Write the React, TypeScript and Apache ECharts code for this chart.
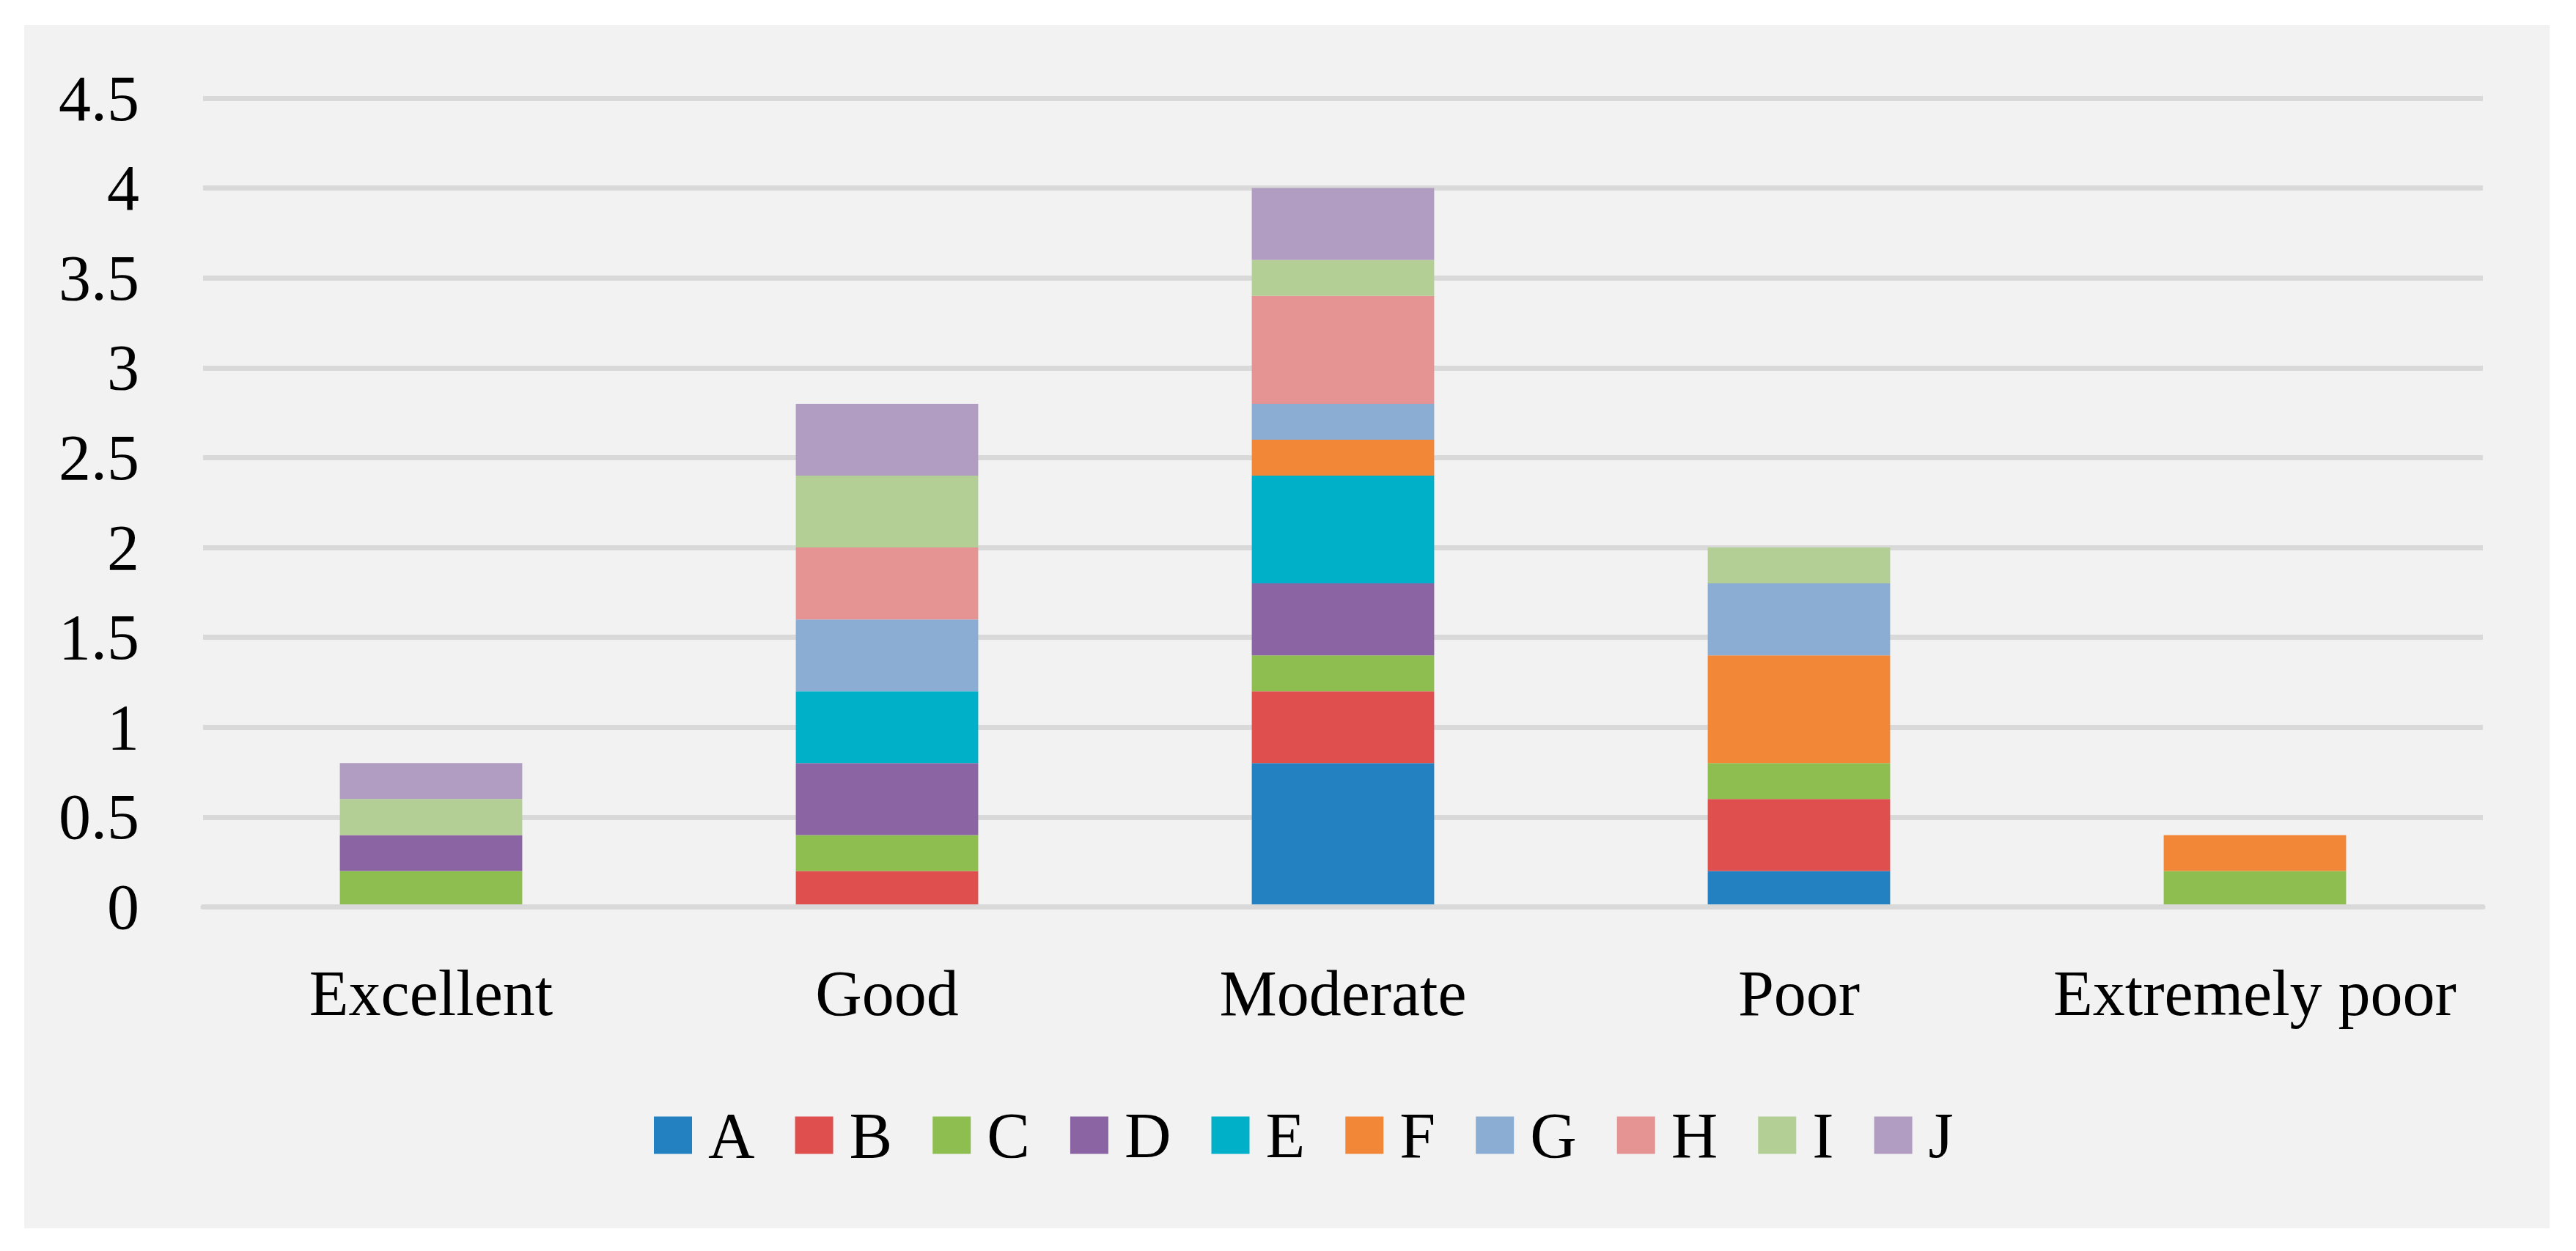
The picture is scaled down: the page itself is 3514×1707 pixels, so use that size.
import React, { useEffect, useRef } from "react";
import * as echarts from "echarts";

const categories = ["Excellent", "Good", "Moderate", "Poor", "Extremely poor"];
const seriesNames = ["A", "B", "C", "D", "E", "F", "G", "H", "I", "J"];
const A = [0, 0, 0.8, 0.2, 0];
const B = [0, 0.2, 0.4, 0.4, 0];
const C = [0.2, 0.2, 0.2, 0.2, 0.2];
const D = [0.2, 0.4, 0.4, 0, 0];
const E = [0, 0.4, 0.6, 0, 0];
const F = [0, 0, 0.2, 0.6, 0.2];
const G = [0, 0.4, 0.2, 0.4, 0];
const H = [0, 0.4, 0.6, 0, 0];
const I = [0.2, 0.4, 0.2, 0.2, 0];
const J = [0.2, 0.4, 0.4, 0, 0];
const seriesValues = [A, B, C, D, E, F, G, H, I, J];
const colors = [
  "#2481C1",
  "#DE4F4E",
  "#8EBD50",
  "#8B65A3",
  "#00AFC8",
  "#F38738",
  "#8BADD4",
  "#E59393",
  "#B3CF95",
  "#B09DC1",
];

const FONT = "'Liberation Serif', 'Times New Roman', serif";

export default function App() {
  const ref = useRef<HTMLDivElement>(null);
  useEffect(() => {
    if (!ref.current) return;
    const chart = echarts.init(ref.current, undefined, { renderer: "svg" });
    chart.setOption({
      animation: false,
      backgroundColor: "#FFFFFF",
      color: colors,
      textStyle: { fontFamily: FONT },
      graphic: {
        elements: [
          {
            type: "rect",
            z: -10,
            silent: true,
            shape: { x: 33, y: 34, width: 3445, height: 1642 },
            style: { fill: "#F2F2F2" },
          },
        ],
      },
      grid: { left: 277, right: 127, top: 134, bottom: 469.5 },
      legend: {
        data: seriesNames,
        left: 892,
        top: 1505,
        padding: 0,
        icon: "rect",
        itemWidth: 52,
        itemHeight: 51,
        itemGap: 55,
        textStyle: {
          fontFamily: FONT,
          fontSize: 88,
          color: "#000000",
          lineHeight: 51,
          padding: [0, 0, 10, 17],
        },
      },
      xAxis: {
        type: "category",
        data: categories,
        z: 3,
        axisLine: { show: true, lineStyle: { color: "#D9D9D9", width: 7 } },
        axisTick: { show: false },
        axisLabel: {
          interval: 0,
          margin: 118,
          verticalAlign: "middle",
          fontFamily: FONT,
          fontSize: 88,
          color: "#000000",
        },
      },
      yAxis: {
        type: "value",
        min: 0,
        max: 4.5,
        interval: 0.5,
        axisLine: { show: false },
        axisTick: { show: false },
        splitLine: { show: true, lineStyle: { color: "#D9D9D9", width: 7 } },
        axisLabel: {
          margin: 87,
          fontFamily: FONT,
          fontSize: 88,
          color: "#000000",
        },
      },
      series: seriesNames.map((name, i) => ({
        name,
        type: "bar",
        stack: "total",
        barWidth: "40%",
        data: seriesValues[i],
        itemStyle: { color: colors[i] },
      })),
    });
    return () => chart.dispose();
  }, []);
  return (
    <div
      ref={ref}
      style={{
        position: "fixed",
        left: 0,
        top: 0,
        width: "3514px",
        height: "1707px",
      }}
    />
  );
}
